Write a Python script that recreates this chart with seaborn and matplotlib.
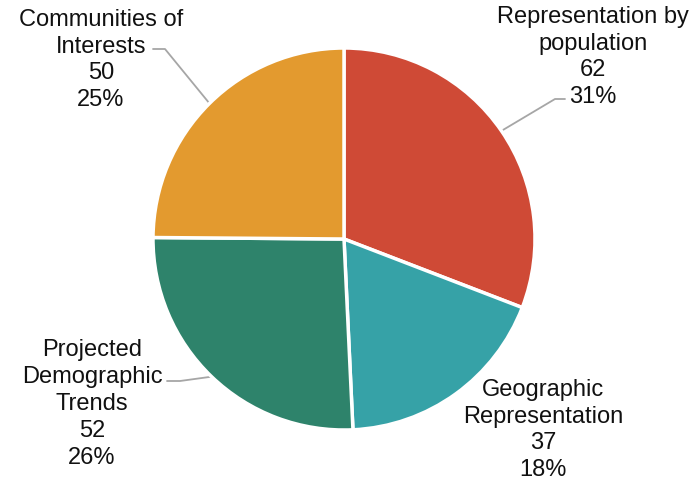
import numpy as np
import matplotlib
matplotlib.use("Agg")
import matplotlib.pyplot as plt
import seaborn as sns

# data
categories = ["Representation by\npopulation", "Geographic\nRepresentation",
              "Projected\nDemographic\nTrends", "Communities of\nInterests"]
values = [62, 37, 52, 50]
colors = ["#CF4A36", "#36A2A7", "#2E836B", "#E39A2F"]

sns.set_style("white")
plt.rcParams['font.family'] = ['Liberation Sans', 'DejaVu Sans']

fig = plt.figure(figsize=(6.95, 4.85), dpi=100)
ax = fig.add_axes([0, 0, 1, 1])

# pie laid out in pixel coordinates
cx, cy, r = 344, 245, 191
wedges, _ = ax.pie(values, colors=colors, startangle=90, counterclock=False,
                   center=(cx, cy), radius=r,
                   wedgeprops=dict(edgecolor="white", linewidth=2.5))
ax.set_xlim(0, 695)
ax.set_ylim(0, 485)
ax.set_aspect("equal")
ax.axis("off")

total = sum(values)
# label spots: (text x, text y, kink point, line end) ; None = no leader
label_pos = [
    (593, 428, (555, 385), (565, 385)),
    (543, 55, None, None),
    (92, 81, (180, 103), (167, 103)),
    (101, 425, (165, 435), (153, 435)),
]
for w, cat, v, (tx, ty, kink, end) in zip(wedges, categories, values, label_pos):
    pct = round(v / total * 100)
    ax.text(tx, ty, f"{cat}\n{v}\n{pct}%", ha="center", va="center",
            multialignment="center", fontsize=17, linespacing=1.28, color="#111111")
    if kink is not None:
        mid = np.deg2rad((w.theta1 + w.theta2) / 2)
        ex, ey = cx + r * np.cos(mid), cy + r * np.sin(mid)
        ax.plot([ex, kink[0], end[0]], [ey, kink[1], end[1]],
                color="#A6A6A6", lw=1.3, zorder=0.5)

fig.savefig("out.png", dpi=100)
